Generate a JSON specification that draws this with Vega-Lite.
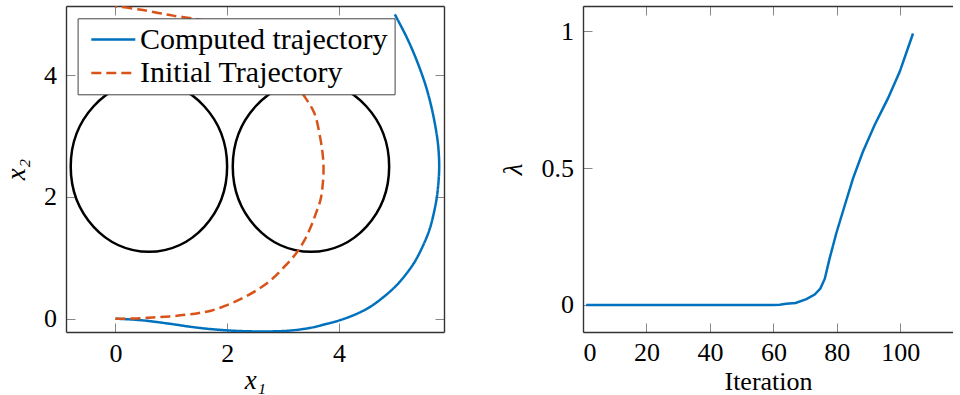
{
  "$schema": "https://vega.github.io/schema/vega-lite/v6.json",
  "padding": {"left": 2, "top": 5, "right": 0, "bottom": 0},
  "spacing": 54,
  "datasets": {
    "traj": [
      {"series": "Computed trajectory", "i": 0, "x": 0, "y": 0},
      {"series": "Computed trajectory", "i": 1, "x": 0.25, "y": -0.01},
      {"series": "Computed trajectory", "i": 2, "x": 0.49, "y": -0.027},
      {"series": "Computed trajectory", "i": 3, "x": 0.79, "y": -0.06},
      {"series": "Computed trajectory", "i": 4, "x": 1.09, "y": -0.098},
      {"series": "Computed trajectory", "i": 5, "x": 1.38, "y": -0.137},
      {"series": "Computed trajectory", "i": 6, "x": 1.68, "y": -0.168},
      {"series": "Computed trajectory", "i": 7, "x": 1.98, "y": -0.19},
      {"series": "Computed trajectory", "i": 8, "x": 2.28, "y": -0.204},
      {"series": "Computed trajectory", "i": 9, "x": 2.58, "y": -0.209},
      {"series": "Computed trajectory", "i": 10, "x": 2.88, "y": -0.206},
      {"series": "Computed trajectory", "i": 11, "x": 3.12, "y": -0.195},
      {"series": "Computed trajectory", "i": 12, "x": 3.47, "y": -0.153},
      {"series": "Computed trajectory", "i": 13, "x": 3.77, "y": -0.088},
      {"series": "Computed trajectory", "i": 14, "x": 4.01, "y": -0.027},
      {"series": "Computed trajectory", "i": 15, "x": 4.31, "y": 0.077},
      {"series": "Computed trajectory", "i": 16, "x": 4.55, "y": 0.19},
      {"series": "Computed trajectory", "i": 17, "x": 4.79, "y": 0.35},
      {"series": "Computed trajectory", "i": 18, "x": 5.0, "y": 0.52},
      {"series": "Computed trajectory", "i": 19, "x": 5.12, "y": 0.64},
      {"series": "Computed trajectory", "i": 20, "x": 5.34, "y": 0.91},
      {"series": "Computed trajectory", "i": 21, "x": 5.5, "y": 1.19},
      {"series": "Computed trajectory", "i": 22, "x": 5.62, "y": 1.46},
      {"series": "Computed trajectory", "i": 23, "x": 5.7, "y": 1.74},
      {"series": "Computed trajectory", "i": 24, "x": 5.755, "y": 2.01},
      {"series": "Computed trajectory", "i": 25, "x": 5.785, "y": 2.28},
      {"series": "Computed trajectory", "i": 26, "x": 5.795, "y": 2.5},
      {"series": "Computed trajectory", "i": 27, "x": 5.785, "y": 2.75},
      {"series": "Computed trajectory", "i": 28, "x": 5.76, "y": 2.97},
      {"series": "Computed trajectory", "i": 29, "x": 5.68, "y": 3.38},
      {"series": "Computed trajectory", "i": 30, "x": 5.56, "y": 3.81},
      {"series": "Computed trajectory", "i": 31, "x": 5.39, "y": 4.25},
      {"series": "Computed trajectory", "i": 32, "x": 5.21, "y": 4.63},
      {"series": "Computed trajectory", "i": 33, "x": 5.0, "y": 5.0},
      {"series": "Initial Trajectory", "i": 0, "x": 0, "y": 0},
      {"series": "Initial Trajectory", "i": 1, "x": 0.37, "y": 0.005},
      {"series": "Initial Trajectory", "i": 2, "x": 0.67, "y": 0.02},
      {"series": "Initial Trajectory", "i": 3, "x": 0.97, "y": 0.038},
      {"series": "Initial Trajectory", "i": 4, "x": 1.27, "y": 0.066},
      {"series": "Initial Trajectory", "i": 5, "x": 1.5, "y": 0.095},
      {"series": "Initial Trajectory", "i": 6, "x": 1.74, "y": 0.14},
      {"series": "Initial Trajectory", "i": 7, "x": 2.04, "y": 0.24},
      {"series": "Initial Trajectory", "i": 8, "x": 2.3, "y": 0.35},
      {"series": "Initial Trajectory", "i": 9, "x": 2.55, "y": 0.48},
      {"series": "Initial Trajectory", "i": 10, "x": 2.79, "y": 0.64},
      {"series": "Initial Trajectory", "i": 11, "x": 3.03, "y": 0.86},
      {"series": "Initial Trajectory", "i": 12, "x": 3.24, "y": 1.08},
      {"series": "Initial Trajectory", "i": 13, "x": 3.39, "y": 1.3},
      {"series": "Initial Trajectory", "i": 14, "x": 3.5, "y": 1.515},
      {"series": "Initial Trajectory", "i": 15, "x": 3.59, "y": 1.735},
      {"series": "Initial Trajectory", "i": 16, "x": 3.67, "y": 1.95},
      {"series": "Initial Trajectory", "i": 17, "x": 3.71, "y": 2.2},
      {"series": "Initial Trajectory", "i": 18, "x": 3.725, "y": 2.45},
      {"series": "Initial Trajectory", "i": 19, "x": 3.71, "y": 2.7},
      {"series": "Initial Trajectory", "i": 20, "x": 3.66, "y": 3.0},
      {"series": "Initial Trajectory", "i": 21, "x": 3.56, "y": 3.38},
      {"series": "Initial Trajectory", "i": 22, "x": 3.35, "y": 3.7},
      {"series": "Initial Trajectory", "i": 23, "x": 3.17, "y": 3.95},
      {"series": "Initial Trajectory", "i": 24, "x": 2.9, "y": 4.25},
      {"series": "Initial Trajectory", "i": 25, "x": 2.6, "y": 4.5},
      {"series": "Initial Trajectory", "i": 26, "x": 2.2, "y": 4.72},
      {"series": "Initial Trajectory", "i": 27, "x": 1.8, "y": 4.86},
      {"series": "Initial Trajectory", "i": 28, "x": 1.4, "y": 4.93},
      {"series": "Initial Trajectory", "i": 29, "x": 1.03, "y": 4.98},
      {"series": "Initial Trajectory", "i": 30, "x": 0.79, "y": 5.02},
      {"series": "Initial Trajectory", "i": 31, "x": 0.43, "y": 5.08},
      {"series": "Initial Trajectory", "i": 32, "x": 0.07, "y": 5.125},
      {"series": "Initial Trajectory", "i": 33, "x": 0.0, "y": 5.13}
    ],
    "circles": [
      {"cx": 0.6, "cy": 2.5},
      {"cx": 3.5, "cy": 2.5}
    ],
    "lam": [
      {"it": 1, "lam": 0},
      {"it": 10, "lam": 0},
      {"it": 20, "lam": 0},
      {"it": 30, "lam": 0},
      {"it": 40, "lam": 0},
      {"it": 50, "lam": 0},
      {"it": 60, "lam": 0},
      {"it": 62, "lam": 0.001},
      {"it": 64, "lam": 0.004},
      {"it": 67, "lam": 0.007},
      {"it": 70.4, "lam": 0.021},
      {"it": 73, "lam": 0.038},
      {"it": 74.8, "lam": 0.06},
      {"it": 76.2, "lam": 0.096},
      {"it": 77.7, "lam": 0.169},
      {"it": 79.8, "lam": 0.261},
      {"it": 82.5, "lam": 0.364},
      {"it": 85.1, "lam": 0.462},
      {"it": 88.2, "lam": 0.559},
      {"it": 91.9, "lam": 0.657},
      {"it": 96.1, "lam": 0.754},
      {"it": 99.8, "lam": 0.851},
      {"it": 104, "lam": 0.991}
    ]
  },
  "hconcat": [
    {
      "width": 378,
      "height": 326,
      "resolve": {"axis": {"x": "independent", "y": "independent"}},
      "layer": [
        {
          "data": {"name": "circles"},
          "mark": {
            "type": "point",
            "shape": "M -0.9168 0 A 0.9168 1 0 1 1 0.9168 0 A 0.9168 1 0 1 1 -0.9168 0 Z",
            "size": 29104,
            "filled": false,
            "stroke": "black",
            "strokeWidth": 2.5,
            "opacity": 1
          },
          "encoding": {
            "x": {
              "field": "cx", "type": "quantitative",
              "scale": {"domain": [-0.884, 5.881], "nice": false, "zero": false},
              "axis": {"values": [0, 2, 4], "title": "x₁", "titleFontStyle": "italic", "orient": "bottom", "labelPadding": 17, "titlePadding": 1}
            },
            "y": {
              "field": "cy", "type": "quantitative",
              "scale": {"domain": [-0.218, 5.138], "nice": false, "zero": false},
              "axis": {"values": [0, 2, 4], "title": "x₂", "titleFontStyle": "italic", "orient": "left", "labelPadding": 18.5, "titlePadding": 13.5}
            }
          }
        },
        {
          "data": {"name": "traj"},
          "mark": {"type": "line", "strokeWidth": 2.5, "clip": true, "interpolate": "catmull-rom"},
          "encoding": {
            "x": {
              "field": "x", "type": "quantitative",
              "axis": {"values": [0, 2, 4], "orient": "top", "labels": false, "title": null}
            },
            "y": {
              "field": "y", "type": "quantitative",
              "axis": {"values": [0, 2, 4], "orient": "right", "labels": false, "title": null}
            },
            "order": {"field": "i", "type": "quantitative"},
            "color": {
              "field": "series", "type": "nominal",
              "scale": {"domain": ["Computed trajectory", "Initial Trajectory"], "range": ["#0072BD", "#D95319"]},
              "legend": {"title": null, "orient": "none", "legendX": 11.6, "legendY": 12.3}
            },
            "strokeDash": {
              "field": "series", "type": "nominal",
              "scale": {"domain": ["Computed trajectory", "Initial Trajectory"], "range": [[1, 0], [10, 5]]},
              "legend": {"title": null, "orient": "none", "legendX": 11.6, "legendY": 12.3}
            }
          }
        }
      ]
    },
    {
      "width": 370,
      "height": 326,
      "data": {"name": "lam"},
      "resolve": {"axis": {"x": "independent", "y": "independent"}},
      "layer": [
        {
          "mark": {"type": "line", "strokeWidth": 2.5, "color": "#0072BD"},
          "encoding": {
            "x": {
              "field": "it", "type": "quantitative",
              "scale": {"domain": [0, 116.6], "nice": false, "zero": false},
              "axis": {"values": [0, 20, 40, 60, 80, 100], "title": "Iteration", "orient": "bottom", "labelPadding": 16, "titlePadding": 3.4, "titleFontSize": 26}
            },
            "y": {
              "field": "lam", "type": "quantitative",
              "scale": {"domain": [-0.0987, 1.0914], "nice": false, "zero": false},
              "axis": {"values": [0, 0.5, 1], "format": "~g", "title": "λ", "titleFontStyle": "italic", "orient": "left", "labelPadding": 18.5, "titlePadding": 13.5}
            }
          }
        },
        {
          "mark": {"type": "line", "strokeWidth": 1, "opacity": 0},
          "encoding": {
            "x": {
              "field": "it", "type": "quantitative",
              "axis": {"values": [0, 20, 40, 60, 80, 100], "orient": "top", "labels": false, "title": null}
            },
            "y": {"field": "lam", "type": "quantitative", "axis": null}
          }
        }
      ]
    }
  ],
  "config": {
    "view": {"stroke": null},
    "font": "Liberation Serif",
    "axis": {
      "grid": false,
      "labelFont": "Liberation Serif",
      "labelFontSize": 26,
      "labelColor": "black",
      "titleFont": "Liberation Serif",
      "titleFontSize": 27,
      "titleFontWeight": "normal",
      "titleColor": "black",
      "tickColor": "#888",
      "tickWidth": 1,
      "tickSize": -9,
      "domainColor": "#333",
      "domainWidth": 1.4
    },
    "legend": {
      "labelFont": "Liberation Serif",
      "labelFontSize": 30,
      "labelColor": "black",
      "labelLimit": 400,
      "labelOffset": 11.7,
      "fillColor": "white",
      "strokeColor": "#444",
      "padding": 6.3,
      "rowPadding": 3.4,
      "symbolType": "M -2 0 L 2 0",
      "symbolSize": 484,
      "symbolOffset": 14.4,
      "symbolStrokeWidth": 2.5,
      "cornerRadius": 0
    }
  }
}
